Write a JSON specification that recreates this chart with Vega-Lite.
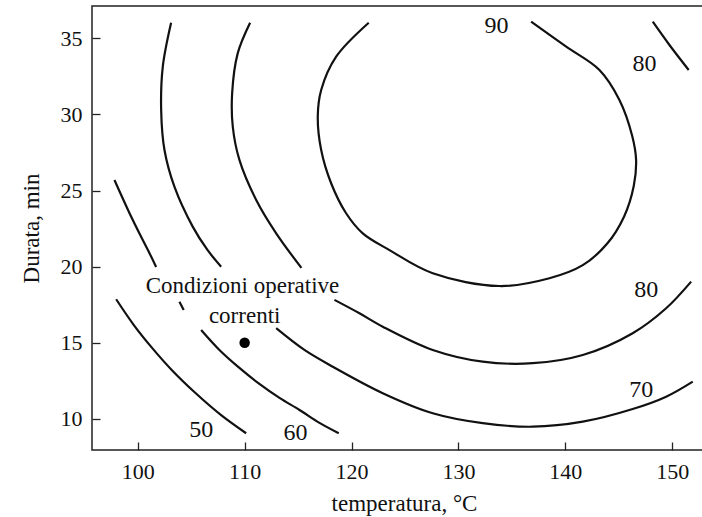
{
  "$schema": "https://vega.github.io/schema/vega-lite/v6.json",
  "width": 620,
  "height": 444,
  "autosize": "none",
  "padding": {"left": 92, "top": 6, "right": 0, "bottom": 67},
  "background": "white",
  "config": {
    "view": {"stroke": "#222", "strokeWidth": 1.5},
    "font": "Liberation Serif",
    "axis": {"grid": false, "domain": false, "tickColor": "#222", "tickWidth": 1.3, "labelColor": "#111", "titleColor": "#111", "labelFont": "Liberation Serif", "titleFont": "Liberation Serif", "titleFontWeight": "normal", "labelFontSize": 22, "titleFontSize": 23}
  },
  "datasets": {
    "contours": [
      {"seg": "50", "i": 1, "x": 97.98, "y": 17.86},
      {"seg": "50", "i": 2, "x": 99.6, "y": 16.2},
      {"seg": "50", "i": 3, "x": 101.3, "y": 14.7},
      {"seg": "50", "i": 4, "x": 103.2, "y": 13.2},
      {"seg": "50", "i": 5, "x": 105.4, "y": 11.7},
      {"seg": "50", "i": 6, "x": 107.8, "y": 10.25},
      {"seg": "50", "i": 7, "x": 110.14, "y": 9.06},

      {"seg": "60a", "i": 1, "x": 97.82, "y": 25.69},
      {"seg": "60a", "i": 2, "x": 99.22, "y": 23.53},
      {"seg": "60a", "i": 3, "x": 100.47, "y": 21.75},
      {"seg": "60a", "i": 4, "x": 101.09, "y": 20.90},
      {"seg": "60a", "i": 5, "x": 101.72, "y": 19.98},
      {"seg": "60b", "i": 1, "x": 103.90, "y": 17.70},
      {"seg": "60b", "i": 2, "x": 104.30, "y": 17.16},
      {"seg": "60c", "i": 1, "x": 105.93, "y": 15.84},
      {"seg": "60c", "i": 2, "x": 107.64, "y": 14.53},
      {"seg": "60c", "i": 3, "x": 109.51, "y": 13.35},
      {"seg": "60c", "i": 4, "x": 111.38, "y": 12.30},
      {"seg": "60c", "i": 5, "x": 113.26, "y": 11.38},
      {"seg": "60c", "i": 6, "x": 115.13, "y": 10.59},
      {"seg": "60c", "i": 7, "x": 117.00, "y": 9.74},
      {"seg": "60c", "i": 8, "x": 118.80, "y": 9.06},

      {"seg": "70a", "i": 1, "x": 103.12, "y": 36.02},
      {"seg": "70a", "i": 2, "x": 102.34, "y": 33.13},
      {"seg": "70a", "i": 3, "x": 102.19, "y": 30.29},
      {"seg": "70a", "i": 4, "x": 102.50, "y": 27.66},
      {"seg": "70a", "i": 5, "x": 103.43, "y": 25.25},
      {"seg": "70a", "i": 6, "x": 105.14, "y": 22.63},
      {"seg": "70a", "i": 7, "x": 106.52, "y": 21.10},
      {"seg": "70a", "i": 8, "x": 107.80, "y": 20.00},
      {"seg": "70b", "i": 1, "x": 112.95, "y": 15.96},
      {"seg": "70b", "i": 2, "x": 115.59, "y": 14.53},
      {"seg": "70b", "i": 3, "x": 118.24, "y": 13.43},
      {"seg": "70b", "i": 4, "x": 122.92, "y": 11.69},
      {"seg": "70b", "i": 5, "x": 127.60, "y": 10.37},
      {"seg": "70b", "i": 6, "x": 132.27, "y": 9.72},
      {"seg": "70b", "i": 7, "x": 136.95, "y": 9.49},
      {"seg": "70b", "i": 8, "x": 141.63, "y": 9.82},
      {"seg": "70b", "i": 10, "x": 146.30, "y": 10.65},
      {"seg": "70b", "i": 11, "x": 149.43, "y": 11.46},
      {"seg": "70b", "i": 12, "x": 151.92, "y": 12.45},

      {"seg": "80a", "i": 1, "x": 110.51, "y": 36.02},
      {"seg": "80a", "i": 2, "x": 109.35, "y": 34.01},
      {"seg": "80a", "i": 3, "x": 108.83, "y": 31.39},
      {"seg": "80a", "i": 4, "x": 108.89, "y": 29.19},
      {"seg": "80a", "i": 5, "x": 109.51, "y": 27.01},
      {"seg": "80a", "i": 6, "x": 111.08, "y": 24.38},
      {"seg": "80a", "i": 7, "x": 112.95, "y": 22.19},
      {"seg": "80a", "i": 8, "x": 115.31, "y": 19.92},
      {"seg": "80b", "i": 1, "x": 118.40, "y": 17.82},
      {"seg": "80b", "i": 2, "x": 120.74, "y": 16.94},
      {"seg": "80b", "i": 3, "x": 122.92, "y": 16.06},
      {"seg": "80b", "i": 4, "x": 127.60, "y": 14.53},
      {"seg": "80b", "i": 5, "x": 132.27, "y": 13.76},
      {"seg": "80b", "i": 6, "x": 136.95, "y": 13.66},
      {"seg": "80b", "i": 7, "x": 141.63, "y": 14.20},
      {"seg": "80b", "i": 9, "x": 146.30, "y": 15.63},
      {"seg": "80b", "i": 10, "x": 149.43, "y": 17.27},
      {"seg": "80b", "i": 11, "x": 151.77, "y": 19.02},
      {"seg": "80c", "i": 1, "x": 148.18, "y": 36.09},
      {"seg": "80c", "i": 2, "x": 149.74, "y": 34.56},
      {"seg": "80c", "i": 3, "x": 151.54, "y": 32.92},

      {"seg": "90", "i": 1, "x": 121.61, "y": 36.02},
      {"seg": "90", "i": 2, "x": 118.56, "y": 33.79},
      {"seg": "90", "i": 3, "x": 117.16, "y": 31.60},
      {"seg": "90", "i": 4, "x": 116.84, "y": 29.85},
      {"seg": "90", "i": 5, "x": 117.16, "y": 27.66},
      {"seg": "90", "i": 6, "x": 118.09, "y": 25.48},
      {"seg": "90", "i": 7, "x": 119.49, "y": 23.51},
      {"seg": "90", "i": 8, "x": 121.05, "y": 22.19},
      {"seg": "90", "i": 9, "x": 123.55, "y": 21.09},
      {"seg": "90", "i": 10, "x": 127.60, "y": 19.57},
      {"seg": "90", "i": 11, "x": 133.84, "y": 18.73},
      {"seg": "90", "i": 12, "x": 138.51, "y": 19.24},
      {"seg": "90", "i": 13, "x": 141.63, "y": 20.10},
      {"seg": "90", "i": 14, "x": 143.9, "y": 21.5},
      {"seg": "90", "i": 15, "x": 145.5, "y": 23.3},
      {"seg": "90", "i": 16, "x": 146.4, "y": 25.3},
      {"seg": "90", "i": 17, "x": 146.62, "y": 27.0},
      {"seg": "90", "i": 18, "x": 146.25, "y": 28.6},
      {"seg": "90", "i": 19, "x": 145.06, "y": 30.95},
      {"seg": "90", "i": 20, "x": 143.19, "y": 32.92},
      {"seg": "90", "i": 21, "x": 140.08, "y": 34.45},
      {"seg": "90", "i": 22, "x": 136.80, "y": 36.09}
    ],
    "labels": [
      {"label": "90", "x": 133.56, "y": 35.81},
      {"label": "80", "x": 147.40, "y": 33.31},
      {"label": "80", "x": 147.56, "y": 18.47},
      {"label": "70", "x": 147.09, "y": 11.90},
      {"label": "60", "x": 114.75, "y": 9.08},
      {"label": "50", "x": 105.93, "y": 9.28}
    ],
    "note": [
      {"text": "Condizioni operative", "x": 109.8, "y": 18.25},
      {"text": "correnti", "x": 110.0, "y": 16.28}
    ],
    "point": [
      {"x": 110, "y": 15}
    ]
  },
  "layer": [
    {
      "data": {"name": "contours"},
      "mark": {"type": "line", "color": "#111", "strokeWidth": 2.2, "clip": true, "interpolate": "catmull-rom"},
      "encoding": {
        "x": {"field": "x", "type": "quantitative",
          "scale": {"domain": [95.72, 153.72], "nice": false, "zero": false},
          "axis": {"values": [100, 110, 120, 130, 140, 150], "tickSize": -8, "labelPadding": 19, "title": "temperatura, °C", "titleX": 312, "titleY": 60, "titleBaseline": "alphabetic", "titleAnchor": null, "titleAlign": "center"}},
        "y": {"field": "y", "type": "quantitative",
          "scale": {"domain": [7.96, 37.12], "nice": false, "zero": false},
          "axis": {"values": [10, 15, 20, 25, 30, 35], "tickSize": -8, "labelPadding": 18, "title": "Durata, min", "titleX": -54, "titleY": 222, "titleBaseline": "alphabetic", "titleAngle": -90, "titleAlign": "center"}},
        "detail": {"field": "seg"},
        "order": {"field": "i", "type": "quantitative"}
      }
    },
    {
      "data": {"name": "point"},
      "mark": {"type": "point", "filled": true, "color": "#000", "size": 110, "opacity": 1},
      "encoding": {
        "x": {"field": "x", "type": "quantitative"},
        "y": {"field": "y", "type": "quantitative"}
      }
    },
    {
      "data": {"name": "labels"},
      "mark": {"type": "text", "font": "Liberation Serif", "fontSize": 24, "color": "#111", "align": "center", "baseline": "middle"},
      "encoding": {
        "x": {"field": "x", "type": "quantitative"},
        "y": {"field": "y", "type": "quantitative"},
        "text": {"field": "label"}
      }
    },
    {
      "data": {"name": "note"},
      "mark": {"type": "text", "font": "Liberation Serif", "fontSize": 23, "color": "#111", "align": "center", "baseline": "alphabetic"},
      "encoding": {
        "x": {"field": "x", "type": "quantitative"},
        "y": {"field": "y", "type": "quantitative"},
        "text": {"field": "text"}
      }
    }
  ]
}
